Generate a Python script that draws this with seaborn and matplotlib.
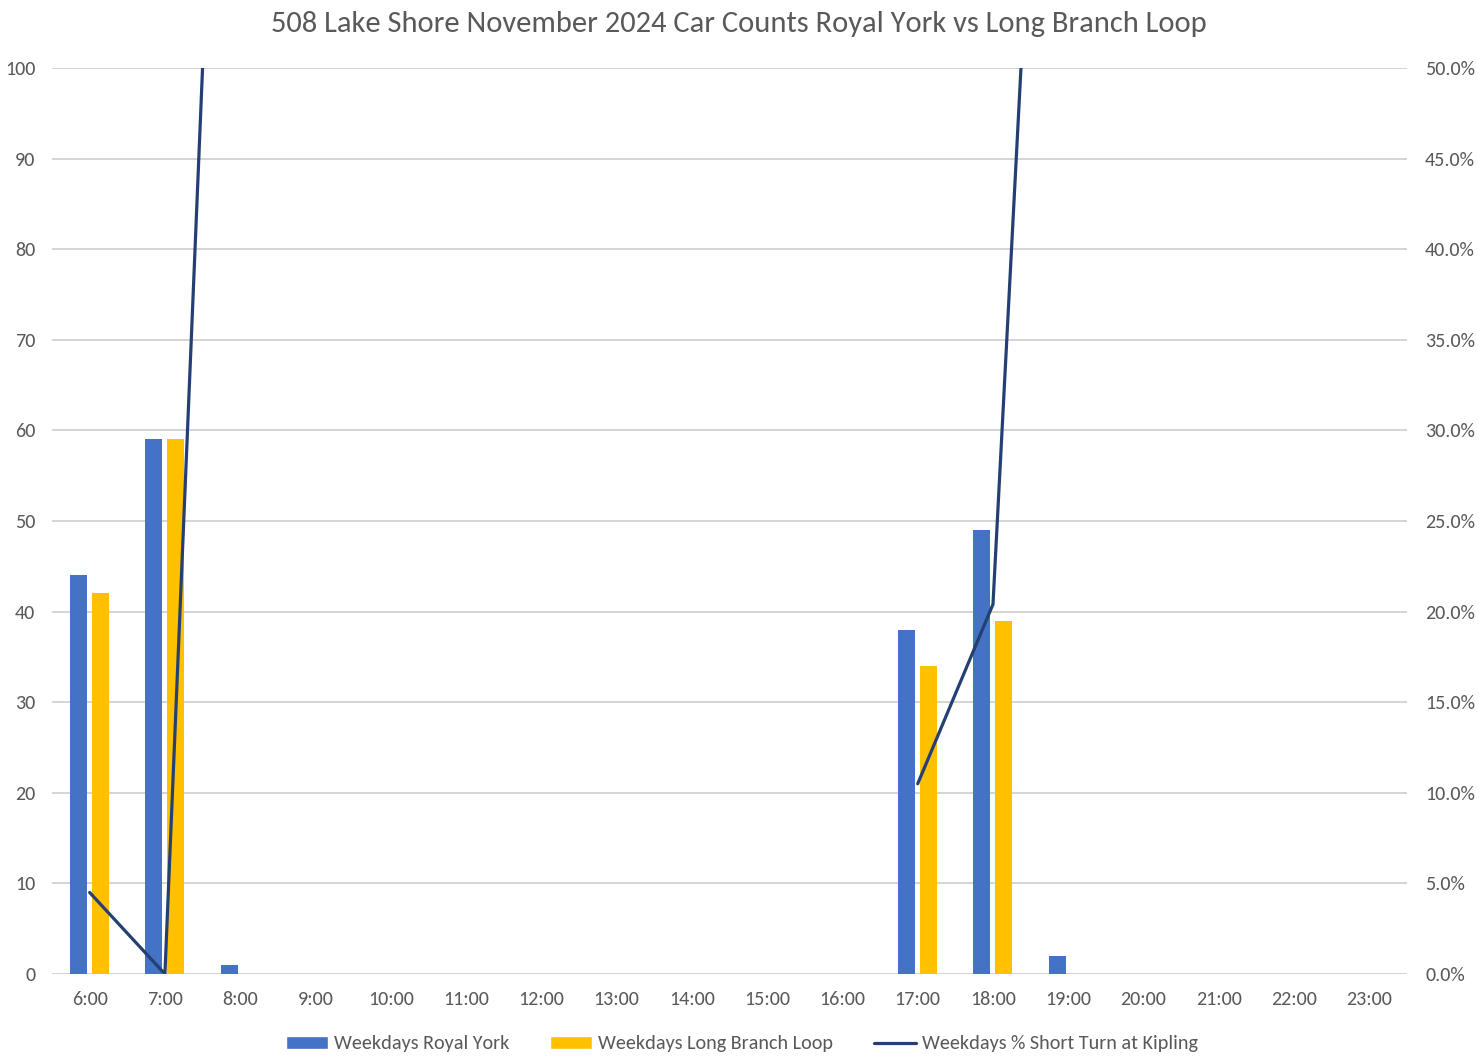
import numpy as np
import pandas as pd
import matplotlib
matplotlib.use("Agg")
import matplotlib.pyplot as plt
import seaborn as sns
from matplotlib.patches import Patch
from matplotlib.lines import Line2D
from matplotlib.ticker import PercentFormatter

hours = ["6:00", "7:00", "8:00", "9:00", "10:00", "11:00", "12:00", "13:00", "14:00",
         "15:00", "16:00", "17:00", "18:00", "19:00", "20:00", "21:00", "22:00", "23:00"]
royal_york = [44, 59, 1, 0, 0, 0, 0, 0, 0, 0, 0, 38, 49, 2, 0, 0, 0, 0]
long_branch = [42, 59, 0, 0, 0, 0, 0, 0, 0, 0, 0, 34, 39, 0, 0, 0, 0, 0]
short_turn_pct = [0.045, 0.0, 1.0, np.nan, np.nan, np.nan, np.nan, np.nan, np.nan,
                  np.nan, np.nan, 0.105, 0.204, 1.0, np.nan, np.nan, np.nan, np.nan]
line_segment = [0, 0, 0, -1, -1, -1, -1, -1, -1, -1, -1, 1, 1, 1, -1, -1, -1, -1]

series_names = ["Weekdays Royal York", "Weekdays Long Branch Loop", "Weekdays % Short Turn at Kipling"]
bar_colors = ["#4472C4", "#FFC000"]
line_color = "#243F73"
text_color = "#595959"
grid_color = "#D4D4D4"

sns.set_theme(style="white")
plt.rcParams["font.family"] = ["Carlito", "Lato", "DejaVu Sans"]

bars_df = pd.DataFrame({
    "hour": hours * 2,
    "count": royal_york + long_branch,
    "series": [series_names[0]] * len(hours) + [series_names[1]] * len(hours),
})
line_df = pd.DataFrame({"x": np.arange(len(hours)), "pct": short_turn_pct, "seg": line_segment})
line_df = line_df[line_df["seg"] >= 0].dropna()

fig = plt.figure(figsize=(14.79, 10.59), dpi=100)
ax = fig.add_axes([52 / 1479, 1 - 974 / 1059, (1407 - 52) / 1479, (974 - 68) / 1059])

sns.barplot(data=bars_df, x="hour", y="count", hue="series", palette=bar_colors,
            width=0.584, gap=0.227, order=hours, hue_order=series_names[:2],
            saturation=1, ax=ax, legend=False, zorder=3, linewidth=0, edgecolor="none")
ax.set_xlim(-0.5, len(hours) - 0.5)
ax.set_ylim(0, 100)
ax.set_yticks(np.arange(0, 101, 10))
ax.grid(axis="y", color=grid_color, linewidth=1.4, zorder=0)
ax.set_axisbelow(True)
ax.set_xlabel("")
ax.set_ylabel("")
for s in ax.spines.values():
    s.set_visible(False)
ax.tick_params(axis="both", length=0, labelsize=14.5, colors=text_color)
ax.tick_params(axis="y", pad=12)
ax.tick_params(axis="x", pad=12)

ax2 = ax.twinx()
sns.lineplot(data=line_df, x="x", y="pct", units="seg", estimator=None,
             color=line_color, linewidth=2.3, ax=ax2, legend=False)
ax2.set_ylim(0, 0.5)
ax2.set_yticks(np.arange(0, 0.51, 0.05))
ax2.yaxis.set_major_formatter(PercentFormatter(1.0, decimals=1))
ax2.set_xlim(-0.5, len(hours) - 0.5)
ax2.grid(False)
ax2.set_ylabel("")
ax2.set_xlabel("")
for s in ax2.spines.values():
    s.set_visible(False)
ax2.tick_params(axis="y", length=0, labelsize=14.5, colors=text_color, pad=13)

fig.suptitle("508 Lake Shore November 2024 Car Counts Royal York vs Long Branch Loop",
             x=(270 + 1207) / 2 / 1479, y=1 - 24 / 1059, va="center",
             fontsize=22, color=text_color)

handles = [Patch(facecolor=bar_colors[0]), Patch(facecolor=bar_colors[1]),
           Line2D([0], [0], color=line_color, linewidth=2.3)]
leg = fig.legend(handles, series_names, loc="center", bbox_to_anchor=(742 / 1479, 1 - 1044 / 1059),
                 ncol=3, frameon=False, fontsize=14.5, handlelength=2.1, handletextpad=0.3,
                 handleheight=0.6, columnspacing=2.0, labelcolor=text_color)

fig.savefig("out.png", dpi=100)
